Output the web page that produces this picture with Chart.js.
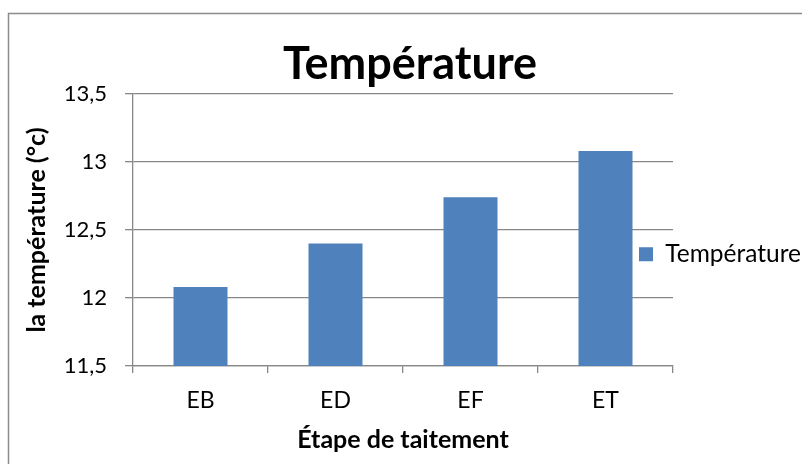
<!DOCTYPE html>
<html>
<head>
<meta charset="utf-8">
<script src="https://cdn.jsdelivr.net/npm/chart.js@4/dist/chart.umd.min.js"></script>
<style>
  html, body { margin: 0; padding: 0; background: #ffffff; }
  #wrap { width: 802px; height: 464px; }
</style>
</head>
<body>
<div id="wrap"><canvas id="c" width="802" height="464"></canvas></div>
<script>
// Treatment stages and measured temperature (°C)
const categories = ['EB', 'ED', 'EF', 'ET'];
const temperature = [12.08, 12.40, 12.74, 13.08];
const yTicks = [11.5, 12, 12.5, 13, 13.5];

const seriesName = 'Température';
const chartTitle = 'Température';
const yTitle = 'la température (°c)';
const xTitle = 'Étape de taitement';

const FONT = 'Lato, "Open Sans", sans-serif';
const GRID = '#888888';

// White page with the thin gray frame around the chart object
const framePlugin = {
  id: 'frame',
  beforeDraw(chart) {
    const ctx = chart.ctx;
    ctx.save();
    ctx.fillStyle = '#ffffff';
    ctx.fillRect(0, 0, chart.width, chart.height);
    ctx.strokeStyle = '#8c8c8c';
    ctx.lineWidth = 1.5;
    ctx.strokeRect(8.5, 13.5, chart.width + 20, chart.height + 20);
    ctx.restore();
  }
};

// Title centred on the whole frame; legend to the right of the last bar
const placeBoxes = {
  id: 'placeBoxes',
  afterLayout(chart) {
    const tb = chart.titleBlock;
    if (tb) { tb.left = 18; tb.right = 802; tb.width = tb.right - tb.left; }
    const lg = chart.legend;
    if (lg) {
      const w = lg.width, h = lg.height;
      lg.left = 639; lg.right = 639 + w;
      lg.top = 242; lg.bottom = 242 + h;
      if (lg.adjustHitBoxes) lg.adjustHitBoxes();
    }
  }
};

new Chart(document.getElementById('c'), {
  type: 'bar',
  data: {
    labels: categories,
    datasets: [{
      label: seriesName,
      data: temperature,
      backgroundColor: '#4F81BD',
      borderWidth: 0,
      barPercentage: 0.4,
      categoryPercentage: 1.0
    }]
  },
  options: {
    responsive: false,
    animation: false,
    devicePixelRatio: 1,
    layout: { padding: { left: 12, top: 0, right: 129, bottom: 0 } },
    plugins: {
      title: {
        display: true,
        text: chartTitle,
        color: '#000000',
        font: { family: FONT, size: 45, weight: 'bold', lineHeight: 1.2 },
        padding: { top: 37.6, bottom: 2.4 }
      },
      legend: {
        position: 'chartArea',
        align: 'start',
        labels: {
          boxWidth: 14,
          boxHeight: 14,
          padding: 0,
          color: '#000000',
          font: { family: FONT, size: 24.5 }
        }
      },
      tooltip: { enabled: false }
    },
    scales: {
      x: {
        grid: { drawOnChartArea: false, drawTicks: true, tickLength: 7, color: GRID, lineWidth: 1.3, offset: true },
        border: { color: GRID, width: 1.3 },
        ticks: { color: '#000000', padding: 14, font: { family: FONT, size: 23 } },
        title: {
          display: true, text: xTitle, color: '#000000',
          font: { family: FONT, size: 25, weight: 'bold', lineHeight: 1.2 },
          padding: { top: 0, bottom: 9 }
        },
        afterFit(scale) { scale.height = 464 - 366; }
      },
      y: {
        min: yTicks[0],
        max: yTicks[yTicks.length - 1],
        afterBuildTicks(scale) { scale.ticks = yTicks.map(v => ({ value: v })); },
        ticks: {
          color: '#000000', padding: 18,
          font: { family: FONT, size: 22 },
          callback: (v) => String(v).replace('.', ',')
        },
        grid: { color: GRID, lineWidth: 1.3, tickLength: 8 },
        border: { color: GRID, width: 1.3 },
        title: {
          display: true, text: yTitle, color: '#000000',
          font: { family: FONT, size: 25, weight: 'bold', lineHeight: 1.2 },
          padding: { top: 10, bottom: 0 }
        },
        afterFit(scale) { scale.width = 133 - 12; }
      }
    }
  },
  plugins: [framePlugin, placeBoxes]
});
</script>
</body>
</html>
